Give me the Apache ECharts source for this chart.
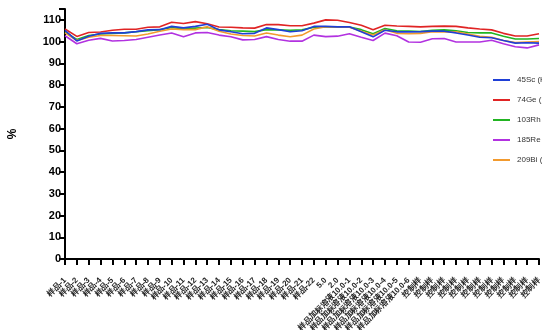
<!DOCTYPE html>
<html>
<head>
<meta charset="utf-8">
<script src="https://cdn.jsdelivr.net/npm/echarts@6/dist/echarts.min.js"></script>
<style>
  html, body { margin: 0; padding: 0; background: #fff; }
  #chart { width: 542px; height: 330px; }
</style>
</head>
<body>
<div id="chart"></div>
<script>
// categories
const samples = [];
for (let i = 1; i <= 22; i++) samples.push('样品-' + i);
const spikes = ['样品加标溶液10.0-1', '样品加标溶液10.0-2', '样品加标溶液10.0-3',
  '样品加标溶液10.0-4', '样品加标溶液10.0-5', '样品加标溶液10.0-6'];
const controls = ['控制样', '控制样', '控制样', '控制样', '控制样', '控制样',
  '控制样', '控制样', '控制样', '控制样', '控制样'];
const categories = samples.concat(['5.0', '2.0'], spikes, controls);

// recovery (%) per internal standard
const sc45 = [105.2, 100.3, 102.5, 103.8, 104, 104, 104.6, 105.4, 105.5, 107, 106.3, 107, 108, 105.4, 104.5, 103.6, 103.8, 106.3, 105.5, 104.5, 105, 107, 107, 106.8, 106.8, 104.5, 102.2, 105.2, 104.5, 104.5, 104.6, 104.8, 104.8, 104, 103, 102, 101.8, 100.5, 99.3, 99.5, 99.3];
const ge74 = [105.8, 102.4, 104.2, 104.4, 105.2, 105.7, 105.7, 106.6, 106.8, 108.9, 108.3, 109.2, 108.2, 106.7, 106.6, 106.3, 106.2, 107.9, 107.8, 107.3, 107.3, 108.5, 110, 109.8, 108.8, 107.5, 105.4, 107.5, 107.2, 107, 106.8, 107, 107.1, 107, 106.3, 105.8, 105.4, 103.8, 102.6, 102.6, 103.6];
const rh103 = [104.3, 101, 102.8, 103.5, 103.8, 104, 104.5, 105, 105.5, 106.5, 105.8, 106.2, 106.5, 105.5, 105, 104.8, 104.6, 105.5, 105.4, 105.2, 105.4, 106.6, 106.8, 106.8, 106.7, 105.5, 103.6, 106, 105, 104.8, 104.6, 105.2, 105.4, 105, 104.2, 104, 104, 102.5, 101.2, 101.2, 101.4];
const re185 = [102.7, 99, 100.6, 101.5, 100.3, 100.5, 101, 102, 103, 104, 102.2, 104, 104.2, 103, 102.2, 100.8, 101, 102.3, 101, 100.2, 100.2, 103, 102.3, 102.5, 103.6, 102, 100.5, 103.9, 102.7, 99.8, 99.7, 101.3, 101.4, 99.8, 99.8, 99.8, 100.6, 99, 97.6, 97.1, 98.5];
const bi209 = [104, 100.5, 102, 102.8, 102.8, 102.7, 102.6, 103.5, 104.8, 105.8, 105.5, 105.5, 106.8, 104.8, 103.5, 102.8, 102.6, 104, 103, 102.2, 103, 105.8, 106.8, 106.8, 106.6, 104.8, 103, 105.5, 103.8, 103.6, 103.8, 104.5, 104.5, 104.5, 103.5, 102.5, 102, 100.5, 99.6, 99.8, 100];

const seriesNames = ['45Sc (KED)', '74Ge (KED)', '103Rh (KED)', '185Re (KED)', '209Bi (KED)'];
const seriesData = [sc45, ge74, rh103, re185, bi209];
const colors = ['#1f3fd6', '#e02424', '#22b422', '#b232e0', '#f29a2e'];
const zOrder = [6, 2, 4, 3, 5];

const chart = echarts.init(document.getElementById('chart'));
const option = {
  animation: false,
  textStyle: { fontFamily: 'Liberation Sans, Arial, sans-serif' },
  grid: { left: 65, right: 3, top: 9, bottom: 71, outerBoundsMode: 'none', containLabel: false },
  legend: {
    orient: 'vertical',
    left: 488,
    top: 71,
    itemGap: 12,
    itemWidth: 17,
    itemHeight: 2,
    icon: 'rect',
    textStyle: { fontSize: 8, color: '#333', padding: [0, 0, 0, 2] },
    data: seriesNames
  },
  xAxis: {
    type: 'category',
    boundaryGap: false,
    data: categories,
    axisLine: { lineStyle: { color: '#000', width: 2 } },
    axisTick: { interval: 0, length: 6, lineStyle: { color: '#000', width: 2 } },
    axisLabel: {
      interval: 0,
      rotate: 45,
      fontSize: 8,
      fontWeight: 'bold',
      color: '#222',
      margin: 20
    }
  },
  yAxis: {
    type: 'value',
    min: 0,
    max: 115,
    interval: 10,
    name: '%',
    nameLocation: 'middle',
    nameGap: 46,
    nameRotate: 90,
    nameTextStyle: { fontSize: 12, fontWeight: 'bold', color: '#000' },
    splitLine: { show: false },
    axisLine: { show: true, lineStyle: { color: '#000', width: 2 } },
    axisTick: { show: true, length: 6, lineStyle: { color: '#000', width: 2 } },
    axisLabel: {
      fontSize: 11,
      fontWeight: 'bold',
      color: '#000',
      margin: 4,
      formatter: v => (v % 10 === 0 ? String(v) : '')
    }
  },
  series: seriesNames.map((name, i) => ({
    name: name,
    type: 'line',
    data: seriesData[i],
    symbol: 'none',
    z: zOrder[i],
    lineStyle: { width: 1.6, color: colors[i] },
    itemStyle: { color: colors[i] }
  }))
};
chart.setOption(option);
</script>
</body>
</html>
